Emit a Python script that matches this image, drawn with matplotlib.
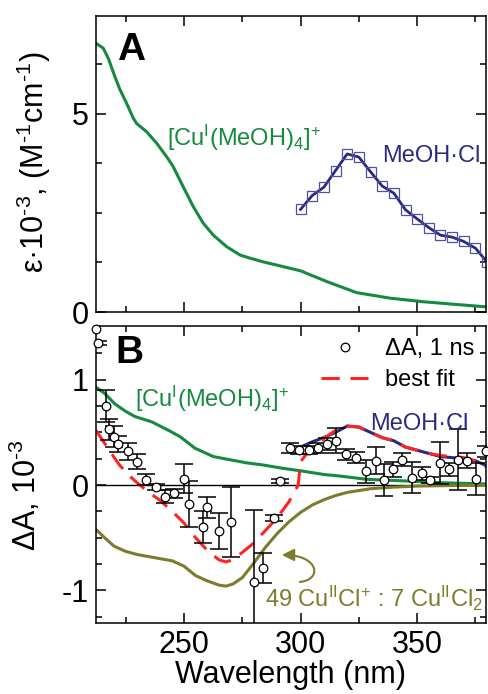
import numpy as np
import matplotlib as mpl
from matplotlib import pyplot as plt
from matplotlib.lines import Line2D
from matplotlib.path import Path
from matplotlib.patches import FancyArrowPatch

mpl.rc('font', size=22, family=['Liberation Sans', 'DejaVu Sans'])
mpl.rc('mathtext', default='regular')
mpl.rc('axes', linewidth=1.1, unicode_minus=False)

green = '#168a3e'
navy = '#2a2a82'
olive = '#7c7c2c'
red = '#ff2424'

# ---- panel A: extinction coefficient, 10^3 M^-1 cm^-1
wl_cu_a = [212.3, 215.4, 217.6, 220.4, 222.6, 225.4, 228.3, 229.7, 234.0, 238.3,
           242.6, 245.4, 249.7, 254.0, 258.3, 262.6, 268.3, 274.0, 278.3, 283.7,
           300.0, 311.2, 324.0, 338.3, 352.6, 366.9, 379.7]
eps_cu_a = [6.78, 6.66, 6.40, 5.94, 5.61, 5.27, 4.89, 4.76, 4.55, 4.26,
            3.92, 3.67, 3.16, 2.66, 2.24, 1.94, 1.65, 1.44, 1.36, 1.27,
            1.04, 0.77, 0.49, 0.35, 0.26, 0.19, 0.13]

wl_cl = [300, 305, 310, 315, 320, 325, 330, 335, 340, 345, 350, 355, 360, 365, 370, 375, 380]
eps_cl = [2.59, 2.94, 3.15, 3.57, 3.99, 3.91, 3.54, 3.18, 3.00, 2.58, 2.35, 2.13,
          1.94, 1.89, 1.78, 1.61, 1.26]

# ---- panel B: transient absorbance, 10^-3
wl_cu_b = [212.2, 216.0, 220.4, 225.0, 229.0, 236.2, 243.3, 248.3, 254.7, 262.6,
           269.7, 277.0, 284.0, 292.0, 300.0, 310.0, 317.0, 328.3, 345.5, 360.0, 380.0]
da_cu_b = [0.93, 0.87, 0.77, 0.70, 0.65, 0.60, 0.52, 0.46, 0.35, 0.27,
           0.24, 0.21, 0.19, 0.16, 0.135, 0.10, 0.085, 0.054, 0.038, 0.022, 0.01]

wl_cl_b = [300, 305, 310, 315, 320, 325, 330, 335, 340, 345, 350, 355, 360, 365, 370, 375, 380]
da_cl_b = [0.36, 0.41, 0.45, 0.50, 0.56, 0.55, 0.50, 0.45, 0.42, 0.36, 0.33, 0.30,
           0.27, 0.26, 0.25, 0.23, 0.18]

wl_cucl = [212.2, 216, 220, 225, 230, 235, 240, 245, 250, 255, 260, 265, 268, 271,
           275, 280, 285, 290, 295, 300, 305, 310, 315, 320, 330, 340, 350, 365, 380]
da_cucl = [-0.42, -0.50, -0.58, -0.63, -0.66, -0.68, -0.70, -0.72, -0.77, -0.86,
           -0.91, -0.95, -0.96, -0.94, -0.88, -0.74, -0.59, -0.46, -0.35, -0.26,
           -0.19, -0.14, -0.10, -0.07, -0.035, -0.02, -0.01, -0.005, -0.003]

wl_fit = [212.2, 215, 218, 222, 226, 230, 235, 240, 245, 250, 255, 260, 265, 268,
          271, 275, 280, 285, 290, 295, 299, 300, 302, 305, 310, 315, 320, 325, 330,
          335, 340, 345, 350, 355, 360, 365, 370, 375, 380]
da_fit = [0.52, 0.43, 0.33, 0.20, 0.10, 0.02, -0.07, -0.15, -0.25, -0.36, -0.50,
          -0.62, -0.71, -0.73, -0.71, -0.64, -0.55, -0.43, -0.31, -0.16, 0.0, 0.22,
          0.28, 0.33, 0.44, 0.52, 0.56, 0.55, 0.50, 0.45, 0.42, 0.36, 0.33, 0.30,
          0.28, 0.27, 0.26, 0.23, 0.17]

wl_pts = [212.5, 213.3, 216.4, 218.0, 220.1, 221.9, 225.9, 230.0, 233.7, 237.9,
          241.9, 245.8, 249.9, 252.0, 258.0, 260.0, 265.0, 270.0, 280.0, 284.0,
          288.7, 291.1, 295.4, 299.4, 303.7, 307.6, 311.4, 315.4, 319.4, 323.7,
          328.0, 332.2, 335.7, 339.7, 343.7, 347.6, 351.9, 355.7, 359.7, 363.6,
          367.6, 371.4, 375.4, 379.4]
da_pts = [1.48, 1.35, 0.75, 0.53, 0.46, 0.39, 0.32, 0.22, 0.05, -0.02,
          -0.11, -0.08, 0.06, -0.18, -0.40, -0.21, -0.44, -0.35, -0.92, -0.79,
          -0.31, 0.035, 0.35, 0.33, 0.33, 0.35, 0.39, 0.42, 0.29, 0.26,
          0.13, 0.23, 0.05, 0.15, 0.24, 0.07, 0.11, 0.05, 0.21, 0.15,
          0.24, 0.23, 0.06, 0.32]
da_err = [np.nan, 0.02, 0.15, 0.10, 0.10, 0.08, 0.08, 0.07, 0.05, 0.03,
          0.06, 0.04, 0.14, 0.22, 0.15, 0.10, 0.17, 0.33, 0.68, 0.14,
          0.03, 0.02, 0.05, 0.04, 0.04, 0.05, 0.06, 0.12, 0.05, 0.05,
          0.11, 0.13, 0.15, 0.07, 0.06, 0.15, 0.06, 0.03, 0.20, 0.06,
          0.29, 0.07, 0.15, 0.05]

fig = plt.figure(figsize=(4.89, 6.94), dpi=100, facecolor='white')
ax1 = fig.add_axes([0.1963, 0.5504, 0.7975, 0.4265])
ax2 = fig.add_axes([0.1963, 0.1023, 0.7975, 0.4280])

for ax in (ax1, ax2):
    ax.set_xlim(212.3, 379.5)
    ax.set_xticks([250, 300, 350])
    ax.set_xticks([225, 275, 325, 375], minor=True)
    ax.tick_params(which='both', direction='in', top=True, right=True, width=1.1)
    ax.tick_params(which='major', length=7, pad=5)
    ax.tick_params(which='minor', length=4)

# panel A
ax1.plot(wl_cu_a, eps_cu_a, color=green, lw=2.2)
ax1.plot(wl_cl, eps_cl, color=navy, lw=2.0, marker='s', ms=6.5, mfc='none',
         mec='#5050a8', mew=0.9)
ax1.set_ylim(0, 7.47)
ax1.set_yticks([0, 5])
ax1.set_yticks([1.25, 2.5, 3.75, 6.25], minor=True)
ax1.tick_params(labelbottom=False)
ax1.set_ylabel('ε·10$^{\u20103}$, (M$^{\u20101}$cm$^{\u20101}$)')
ax1.yaxis.set_label_coords(-0.110, 0.507)
ax1.text(0.054, 0.851, 'A', transform=ax1.transAxes, fontsize=28, fontweight='bold',
         va='baseline')
ax1.text(242.7, 4.20, '[Cu$^{I}$(MeOH)$_{4}$]$^{+}$', color=green, fontsize=17,
         va='baseline')
ax1.text(334.9, 3.78, 'MeOH·Cl', color=navy, fontsize=17, va='baseline')

# panel B
ax2.axhline(0, color='black', lw=1.0, zorder=1)
ax2.plot(wl_cu_b, da_cu_b, color=green, lw=2.2)
ax2.plot(wl_cucl, da_cucl, color=olive, lw=2.2)
ax2.plot(wl_cl_b, da_cl_b, color=navy, lw=2.2)
ax2.plot(wl_fit, da_fit, color=red, lw=2.2, dashes=(6, 3.5))
ax2.errorbar(wl_pts, da_pts, yerr=da_err, fmt='none', ecolor='black',
             elinewidth=1.1, capsize=6.5, capthick=1.1)
ax2.plot(wl_pts, da_pts, ls='none', marker='o', ms=6.2, mfc='white', mec='black',
         mew=0.9, clip_on=False, zorder=3)
ax2.set_ylim(-1.31, 1.51)
ax2.set_yticks([-1, 0, 1])
ax2.set_yticks([-1.25, -0.75, -0.5, -0.25, 0.25, 0.5, 0.75, 1.25], minor=True)
ax2.set_xlabel('Wavelength (nm)')
ax2.xaxis.set_label_coords(0.5, -0.125)
ax2.set_ylabel('ΔA, 10$^{\u20103}$')
ax2.yaxis.set_label_coords(-0.136, 0.431)
ax2.text(0.049, 0.875, 'B', transform=ax2.transAxes, fontsize=28, fontweight='bold',
         va='baseline')
ax2.text(229.0, 0.74, '[Cu$^{I}$(MeOH)$_{4}$]$^{+}$', color=green, fontsize=17,
         va='baseline')
ax2.text(329.7, 0.52, 'MeOH·Cl', color=navy, fontsize=17, va='baseline')
ax2.text(284.7, -1.155, '49 Cu$^{II}$Cl$^{+}$ : 7 Cu$^{II}$Cl$_{2}$', color=olive,
         fontsize=17, va='baseline')

arrow_path = Path([(299.7, -0.92), (309.5, -0.90), (308.0, -0.664), (292.0, -0.664)],
                  [Path.MOVETO, Path.CURVE4, Path.CURVE4, Path.CURVE4])
ax2.add_patch(FancyArrowPatch(path=arrow_path, arrowstyle='-|>', mutation_scale=18,
                              color=olive, lw=1.5))

handles = [Line2D([], [], ls='none', marker='o', ms=6.2, mfc='white', mec='black', mew=0.9),
           Line2D([], [], color=red, lw=2.2, dashes=(6, 3.5))]
ax2.legend(handles, ['ΔA, 1 ns', 'best fit'], loc='upper right', frameon=False,
           fontsize=17, handlelength=2.0, handletextpad=0.7, labelspacing=0.4,
           borderaxespad=0.1, bbox_to_anchor=(1.0, 1.0))

fig.savefig('out.png', dpi=100)
